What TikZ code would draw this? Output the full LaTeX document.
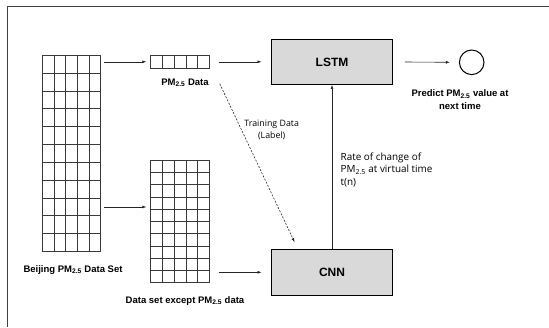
\documentclass[tikz,border=0pt]{standalone}
\usepackage{fontspec}
\setmainfont{Liberation Sans}
\newfontfamily\regfont{Open Sans}
\usetikzlibrary{arrows.meta,calc}
\definecolor{boxfill}{HTML}{D9D9D9}
\definecolor{gridcol}{HTML}{3A3A3A}
\tikzset{
  gridbox/.style={draw=gridcol, line width=0.8pt, inner sep=0pt, minimum width=58.6pt},
  gridline/.style={draw=gridcol, line width=0.7pt},
  netbox/.style={draw=black, line width=1.3pt, fill=boxfill, inner sep=0pt, minimum width=120.6pt, font=\fontsize{12}{14}\selectfont\bfseries},
  lbl/.style={font=\fontsize{9.5}{12.5}\selectfont\bfseries, inner sep=0pt, align=center},
  reg/.style={font=\regfont\fontsize{8.8}{12.3}\selectfont, inner sep=0pt},
  arr/.style={-{Latex[length=4pt,width=3pt]}, line width=0.6pt, draw=black!85},
}
\begin{document}
\begin{tikzpicture}[x=1pt,y=-1pt]
\useasboundingbox (0,0) rectangle (549,327);
\draw[line width=1pt, draw=black!75] (7,327) -- (7,6) -- (549,6);

% big grid
\node[gridbox, minimum height=196pt] (big) at (71.5,153.3) {};
\foreach \i in {1,...,4} \draw[gridline] (42.2+\i*11.72,55.3) -- ++(0,196);
\foreach \j in {1,...,10} \draw[gridline] (42.2,55.3+\j*17.82) -- ++(58.6,0);

% small row
\node[gridbox, minimum height=13pt] (small) at (180,61.8) {};
\foreach \i in {1,...,4} \draw[gridline] (150.7+\i*11.72,55.3) -- ++(0,13);

% middle grid
\node[gridbox, minimum height=122.4pt] (mid) at (180,221.5) {};
\foreach \i in {1,...,4} \draw[gridline] (150.7+\i*11.72,160.3) -- ++(0,122.4);
\foreach \j in {1,...,9} \draw[gridline] (150.7,160.3+\j*12.24) -- ++(58.6,0);

% networks
\node[netbox, minimum height=44.6pt] (lstm) at (332,62) {LSTM};
\node[netbox, minimum height=46pt] (cnn) at (332,272.3) {CNN};
\node[draw=black, line width=1pt, circle, minimum size=24.6pt, inner sep=0pt] (out) at (471.7,62.3) {};

% labels
\node[lbl] (lbig) at (73,270) {Beijing PM\textsubscript{2.5} Data Set};
\node[lbl] (lsmall) at (185,82.7) {PM\textsubscript{2.5} Data};
\node[lbl] (lmid) at (185,300.7) {Data set except PM\textsubscript{2.5} data};
\node[lbl] (lout) at (460,99.5) {Predict PM\textsubscript{2.5} value at\\next time};
\node[reg, align=center] (ltrain) at (271.7,130) {Training Data\\(Label)};
\node[reg, font=\regfont\fontsize{9.9}{12.6}\selectfont, align=left, anchor=north west] (lrate) at (340.5,152.5) {Rate of change of\\PM\textsubscript{2.5} at virtual time\\t(n)};

% connectors
\draw[arr] ([xshift=2.6pt]big.east |- small.west) -- ([xshift=-4pt]small.west);
\draw[arr] ([xshift=2.6pt]big.east |- 0,207) -- ([xshift=-4pt]mid.west |- 0,207);
\draw[arr] ([xshift=9pt]small.east) -- ([xshift=-9.5pt]lstm.west |- small.east);
\draw[arr] ([xshift=9pt]mid.east |- cnn.west) -- ([xshift=-9.5pt]cnn.west);
\draw[arr] ([xshift=12pt]lstm.east) -- ([xshift=-9pt]out.west);
\draw[arr] (cnn.north) -- (lstm.south);
\draw[-{Latex[length=4pt,width=3pt]}, line width=0.6pt, draw=black!85, dash pattern=on 2pt off 1.5pt]
  ($(small.south east)+(10,15)$) -- ($(cnn.north west)+(23.5,-6.5)$);
\end{tikzpicture}
\end{document}
